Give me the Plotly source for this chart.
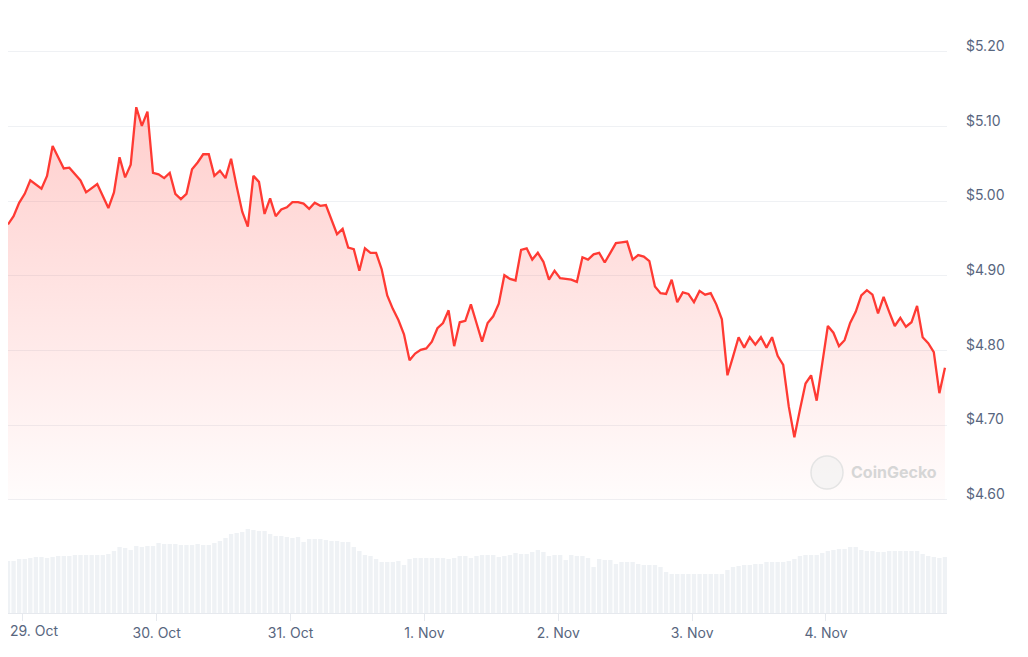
import pandas as pd
import plotly.graph_objects as go

# ---- data ----
start_time = "2024-10-28 21:20"
n_points = 169

price = [
    4.969, 4.980, 4.998, 5.010, 5.028, 5.023, 5.017, 5.034, 5.074, 5.059,
    5.044, 5.045, 5.037, 5.028, 5.012, 5.017, 5.023, 5.007, 4.991, 5.012,
    5.059, 5.032, 5.049, 5.126, 5.101, 5.120, 5.038, 5.036, 5.031, 5.038,
    5.010, 5.003, 5.010, 5.043, 5.052, 5.063, 5.063, 5.034, 5.041, 5.031,
    5.057, 5.020, 4.986, 4.966, 5.034, 5.026, 4.983, 5.004, 4.980, 4.989,
    4.992, 4.999, 4.999, 4.997, 4.990, 4.998, 4.994, 4.995, 4.976, 4.956,
    4.963, 4.938, 4.936, 4.907, 4.937, 4.931, 4.931, 4.909, 4.874, 4.856,
    4.841, 4.822, 4.787, 4.796, 4.801, 4.803, 4.812, 4.830, 4.837, 4.854,
    4.806, 4.838, 4.840, 4.862, 4.837, 4.812, 4.837, 4.846, 4.863, 4.901,
    4.896, 4.894, 4.935, 4.937, 4.922, 4.931, 4.919, 4.895, 4.907, 4.897,
    4.896, 4.895, 4.892, 4.925, 4.922, 4.929, 4.931, 4.918, 4.931, 4.944,
    4.945, 4.946, 4.922, 4.928, 4.926, 4.920, 4.886, 4.877, 4.876, 4.895,
    4.865, 4.878, 4.876, 4.865, 4.880, 4.875, 4.877, 4.862, 4.842, 4.767,
    4.792, 4.818, 4.804, 4.818, 4.808, 4.818, 4.804, 4.818, 4.793, 4.781,
    4.725, 4.684, 4.721, 4.756, 4.767, 4.733, 4.783, 4.833, 4.824, 4.806,
    4.814, 4.837, 4.852, 4.874, 4.881, 4.875, 4.850, 4.872, 4.852, 4.833,
    4.844, 4.832, 4.838, 4.860, 4.818, 4.810, 4.798, 4.743, 4.777,
]

volume = [
    52, 52, 54, 54, 55, 56, 56, 55, 56, 57,
    57, 57, 58, 58, 58, 58, 58, 58, 59, 62,
    66, 65, 63, 67, 66, 67, 67, 70, 69, 69,
    69, 68, 68, 68, 69, 68, 68, 70, 72, 75,
    79, 80, 81, 84, 83, 82, 82, 79, 77, 77,
    76, 75, 76, 71, 74, 74, 74, 73, 72, 72,
    71, 71, 66, 62, 58, 57, 54, 51, 51, 51,
    52, 48, 54, 55, 55, 55, 55, 55, 55, 54,
    55, 57, 57, 55, 57, 58, 58, 58, 56, 57,
    58, 60, 59, 59, 61, 63, 61, 57, 58, 58,
    53, 58, 57, 57, 55, 46, 54, 53, 53, 49,
    51, 51, 51, 49, 48, 48, 48, 46, 41, 39,
    39, 39, 39, 39, 39, 39, 39, 39, 39, 43,
    46, 47, 48, 48, 49, 49, 51, 51, 51, 51,
    52, 54, 57, 58, 58, 58, 60, 62, 63, 64,
    64, 66, 66, 63, 62, 62, 61, 61, 62, 62,
    62, 62, 62, 62, 59, 57, 56, 55, 56,
]

price_ticks = [4.60, 4.70, 4.80, 4.90, 5.00, 5.10, 5.20]
price_tick_labels = ["$4.60", "$4.70", "$4.80", "$4.90", "$5.00", "$5.10", "$5.20"]

day_ticks = ["2024-10-29", "2024-10-30", "2024-10-31", "2024-11-01",
             "2024-11-02", "2024-11-03", "2024-11-04"]
day_labels = ["29. Oct", "30. Oct", "31. Oct", "1. Nov",
              "2. Nov", "3. Nov", "4. Nov"]

times = pd.date_range(start=start_time, periods=n_points, freq="h")

# ---- styling ----
RED = "#ff3a33"
LABEL = "#58667e"
GRID = "#eff1f4"
FONT = "Inter, 'Noto Sans', sans-serif"

# figure sits in the page at an 8px body offset
W, H = 1020, 649
ML, MR, MT, MB = 0, 81, 32, 44
PW, PH = W - ML - MR, H - MT - MB


def px(xp):   # page x -> paper x
    return (xp - 8 - ML) / PW


def py(yp):   # page y -> paper y
    return (H - MB - (yp - 8)) / PH


fig = go.Figure()

# volume bars
fig.add_trace(go.Bar(
    x=times, y=volume, yaxis="y2",
    marker=dict(color="#eff2f5", line=dict(width=0)),
    hoverinfo="skip", showlegend=False,
))

# baseline for the area fill (bottom of price scale)
fig.add_trace(go.Scatter(
    x=times, y=[price_ticks[0]] * len(times), mode="lines",
    line=dict(width=0, color="rgba(0,0,0,0)"),
    hoverinfo="skip", showlegend=False,
))

fig.add_trace(go.Scatter(
    x=times, y=price, mode="lines",
    line=dict(color=RED, width=2.3),
    fill="tonexty",
    fillgradient=dict(
        type="vertical",
        start=4.60, stop=5.13,
        colorscale=[[0, "rgba(255,58,51,0.015)"], [1, "rgba(255,58,51,0.25)"]],
    ),
    showlegend=False,
))

t0 = times[0]
t1 = times[-1] + pd.Timedelta(minutes=22)

fig.update_layout(
    width=W, height=H,
    margin=dict(l=ML, r=MR, t=MT, b=MB),
    paper_bgcolor="white", plot_bgcolor="white",
    font=dict(family=FONT, size=14, color=LABEL),
    bargap=0.22,
    xaxis=dict(
        anchor="y2",
        automargin=False,
        range=[t0, t1],
        tickvals=day_ticks, ticktext=[""] + day_labels[1:],
        showgrid=False, zeroline=False,
        showline=True, linecolor="#e6e9ee", linewidth=1,
        ticks="outside", ticklen=7, tickcolor="#e6e9ee", tickwidth=1,
        tickfont=dict(size=14, color=LABEL, family=FONT),
    ),
    yaxis=dict(
        domain=[py(510), 1],
        range=[4.5866, 5.216],
        side="right",
        automargin=False,
        tickvals=price_ticks, ticktext=price_tick_labels,
        showgrid=True, gridcolor=GRID, gridwidth=1,
        zeroline=False, showline=False, ticks="",
        ticklabelstandoff=18, ticklabelshift=-6,
        tickfont=dict(size=14, color=LABEL, family=FONT),
    ),
    yaxis2=dict(
        domain=[0, py(510)],
        range=[0, 103],
        automargin=False,
        showgrid=False, zeroline=False, showticklabels=False,
        showline=False, ticks="",
    ),
)

# first day label, kept inside the chart edge
fig.add_annotation(xref="paper", yref="paper", x=px(8), y=py(630),
                   xanchor="left", yanchor="middle", showarrow=False,
                   text=day_labels[0],
                   font=dict(family=FONT, size=14, color=LABEL))

# CoinGecko watermark
fig.add_shape(type="circle", xref="paper", yref="paper",
              x0=px(811), x1=px(843), y0=py(489), y1=py(456),
              line=dict(color="#e4e4e4", width=1.5), fillcolor="rgba(240,240,240,0.6)",
              layer="above")
fig.add_annotation(xref="paper", yref="paper",
                   x=px(849), y=py(472),
                   xanchor="left", yanchor="middle", showarrow=False,
                   text="<b>CoinGecko</b>",
                   font=dict(family=FONT, size=16, color="#d6d6d6"))

fig.write_html("out.html")
